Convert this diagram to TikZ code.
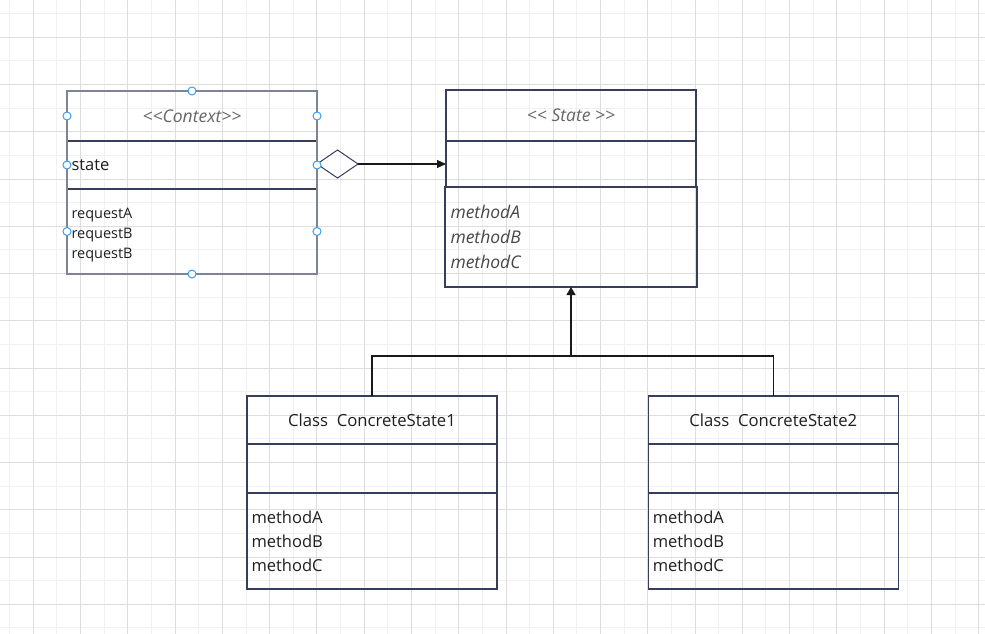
\documentclass[tikz,border=0pt]{standalone}
\usepackage{fontspec}
\setmainfont{Open Sans}
\usetikzlibrary{positioning, arrows.meta, shapes.geometric}
\definecolor{gridlight}{HTML}{F0F0F0}
\definecolor{griddark}{HTML}{DDDDDD}
\definecolor{boxline}{HTML}{383D5C}
\definecolor{selline}{HTML}{7E8398}
\definecolor{handleblue}{HTML}{3C9CF2}

\tikzset{
    part/.style={draw=boxline, line width=1.4pt, minimum width=250pt, inner xsep=4.5pt, inner ysep=0pt, outer sep=0pt},
    title/.style={part, text=black!88, font=\fontsize{16.7pt}{20pt}\selectfont},
    stereo/.style={part, text=black!60, font=\itshape\fontsize{17.5pt}{20pt}\selectfont},
    members/.style={part, align=left, text width=241pt, text=black!88},
    handle/.style={circle, draw=handleblue, fill=white, line width=1pt, minimum size=8pt, inner sep=0pt}
}

\begin{document}
\begin{tikzpicture}[x=1pt, y=-1pt]
    \useasboundingbox (0,0) rectangle (985,634);
    \fill[white] (0,0) rectangle (985,634);
    \foreach \k in {0,...,20} \draw[gridlight, line width=1pt] ({9.67+47.27*\k},0) -- ++(0,634);
    \foreach \k in {0,...,13} \draw[gridlight, line width=1pt] (0,{13.67+47.25*\k}) -- ++(985,0);
    \foreach \k in {0,...,20} \draw[griddark, line width=1pt] ({33.3+47.27*\k},0) -- ++(0,634);
    \foreach \k in {0,...,12} \draw[griddark, line width=1pt] (0,{37.3+47.25*\k}) -- ++(985,0);

    \node[stereo, minimum height=50pt] (ctxtitle) at (192,116) {<{}<Context>{}>};
    \node[members, minimum height=48pt, below=0pt of ctxtitle, font=\fontsize{16.5pt}{20pt}\selectfont, inner xsep=3.5pt] (ctxattr) {state};
    \node[members, minimum height=85pt, below=0pt of ctxattr, font=\fontsize{14.5pt}{20pt}\selectfont, inner xsep=3.5pt] (ctxmeth) {\\[-3pt]requestA\\requestB\\requestB};
    \draw[selline, line width=1.6pt] (ctxtitle.north west) rectangle (ctxmeth.south east);

    \node[stereo, minimum height=51pt] (statetitle) at (571,115.5) {<{}< State >{}>};
    \node[members, minimum height=46pt, below=0pt of statetitle] (stateattr) {};
    \node[members, minimum height=100pt, below=0pt of stateattr, text=black!72, font=\itshape\fontsize{17.5pt}{25pt}\selectfont, inner xsep=5.5pt] (statemeth) {methodA\\methodB\\methodC};

    \node[title, minimum height=48pt] (cs1title) at (372,420) {Class\ \ ConcreteState1};
    \node[members, minimum height=49pt, below=0pt of cs1title] (cs1attr) {};
    \node[members, minimum height=96pt, below=0pt of cs1attr, font=\fontsize{16.5pt}{24pt}\selectfont] (cs1meth) {methodA\\methodB\\methodC};

    \node[title, minimum height=48pt] (cs2title) at (773.3,420) {Class\ \ ConcreteState2};
    \node[members, minimum height=49pt, below=0pt of cs2title] (cs2attr) {};
    \node[members, minimum height=96pt, below=0pt of cs2attr, font=\fontsize{16.5pt}{24pt}\selectfont] (cs2meth) {methodA\\methodB\\methodC};

    \node[diamond, draw=boxline, line width=1pt, minimum width=41pt, minimum height=28pt, inner sep=0pt, outer sep=0pt, anchor=west] (agg) at (ctxattr.east |- stateattr.west) {};
    \draw[-{Triangle[length=9pt, width=8pt]}, line width=1.1pt, black!90] (agg.east) -- (stateattr.west);

    \coordinate (split) at (571,356);
    \draw[line width=1.1pt, black!90] (cs1title.north) |- (split) -| (cs2title.north);
    \draw[-{Triangle[length=8pt, width=9pt]}, line width=1.1pt, black!90] (split) -- (statemeth.south);

    \foreach \a [count=\i] in {ctxtitle.north, ctxmeth.south, ctxtitle.west, ctxattr.west, ctxmeth.west, ctxtitle.east, ctxattr.east, ctxmeth.east}
        \node[handle] (h\i) at (\a) {};
\end{tikzpicture}
\end{document}
